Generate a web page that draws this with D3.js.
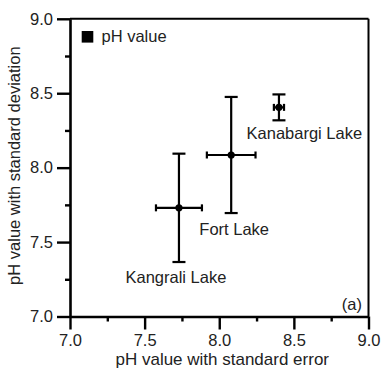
<!DOCTYPE html>
<html>
<head>
<meta charset="utf-8">
<script src="https://cdn.jsdelivr.net/npm/d3@7"></script>
<style>
  body { margin: 0; background: #fff; }
  svg text { font-family: "Liberation Sans", Arial, Helvetica, sans-serif; fill: #222; }
</style>
</head>
<body>
<div id="chart"></div>
<script>
// data
var lakes = ["Kangrali Lake", "Fort Lake", "Kanabargi Lake"];
var phMean = [7.73, 8.08, 8.40];          // x = mean pH
var phMeanY = [7.73, 8.085, 8.405];       // y = mean pH
var stdErr = [0.154, 0.163, 0.034];       // horizontal bars
var stdDev = [0.364, 0.39, 0.087];        // vertical bars
var majorTicks = [7.0, 7.5, 8.0, 8.5, 9.0];
var minorTicks = [7.25, 7.75, 8.25, 8.75];

var width = 382, height = 371;
var plotLeft = 70, plotRight = 368.5, plotTop = 18.8, plotBottom = 316.5;

var svg = d3.select("#chart")
  .append("svg")
    .attr("width", width)
    .attr("height", height);

var x = d3.scaleLinear().domain([7, 9]).range([plotLeft, plotRight]);
var y = d3.scaleLinear().domain([7, 9]).range([plotBottom, plotTop]);

// frame top + right
svg.append("line")
  .attr("x1", x(7)).attr("x2", x(9))
  .attr("y1", y(9)).attr("y2", y(9))
  .attr("stroke", "#000").attr("stroke-width", 2);
svg.append("line")
  .attr("x1", x(9)).attr("x2", x(9))
  .attr("y1", y(9)).attr("y2", y(7))
  .attr("stroke", "#000").attr("stroke-width", 2);

// x axis
svg.append("g")
  .attr("transform", `translate(0,${plotBottom})`)
  .call(d3.axisBottom(x).tickValues(majorTicks).tickFormat(d3.format(".1f"))
        .tickSize(13).tickSizeOuter(0).tickPadding(5));
svg.append("g")
  .attr("transform", `translate(0,${plotBottom})`)
  .call(d3.axisBottom(x).tickValues(minorTicks).tickFormat("").tickSize(5).tickSizeOuter(0))
  .select(".domain").remove();

// y axis
svg.append("g")
  .attr("transform", `translate(${plotLeft},0)`)
  .call(d3.axisLeft(y).tickValues(majorTicks).tickFormat(d3.format(".1f"))
        .tickSize(13).tickSizeOuter(0).tickPadding(4));
svg.append("g")
  .attr("transform", `translate(${plotLeft},0)`)
  .call(d3.axisLeft(y).tickValues(minorTicks).tickFormat("").tickSize(5).tickSizeOuter(0))
  .select(".domain").remove();

svg.selectAll(".domain").attr("stroke", "#000").attr("stroke-width", 2.6);
svg.selectAll(".tick line").attr("stroke", "#000").attr("stroke-width", 2.4);
svg.selectAll(".tick text")
  .style("font-size", "16.5px")
  .style("font-family", "'Liberation Sans', Arial, sans-serif")
  .attr("fill", "#222");

// axis titles
svg.append("text")
  .attr("x", (plotLeft + plotRight) / 2 + 3)
  .attr("y", 365)
  .attr("text-anchor", "middle")
  .style("font-size", "17px")
  .text("pH value with standard error");

svg.append("text")
  .attr("transform", `translate(20,${(plotTop + plotBottom) / 2 - 2}) rotate(-90)`)
  .attr("text-anchor", "middle")
  .style("font-size", "16.5px")
  .text("pH value with standard deviation");

// error bars
var capV = 6.5, capH = 3.5;
lakes.forEach(function(name, i) {
  var cx = x(phMean[i]), cy = y(phMeanY[i]);
  var g = svg.append("g").attr("stroke", "#000").attr("stroke-width", 2.2);
  var y0 = y(phMeanY[i] - stdDev[i]), y1 = y(phMeanY[i] + stdDev[i]);
  var x0 = x(phMean[i] - stdErr[i]), x1 = x(phMean[i] + stdErr[i]);
  g.append("line").attr("x1", cx).attr("x2", cx).attr("y1", y0).attr("y2", y1);
  g.append("line").attr("x1", cx - capV).attr("x2", cx + capV).attr("y1", y0).attr("y2", y0);
  g.append("line").attr("x1", cx - capV).attr("x2", cx + capV).attr("y1", y1).attr("y2", y1);
  g.append("line").attr("x1", x0).attr("x2", x1).attr("y1", cy).attr("y2", cy);
  g.append("line").attr("x1", x0).attr("x2", x0).attr("y1", cy - capH).attr("y2", cy + capH);
  g.append("line").attr("x1", x1).attr("x2", x1).attr("y1", cy - capH).attr("y2", cy + capH);
  svg.append("circle").attr("cx", cx).attr("cy", cy).attr("r", 3.6).attr("fill", "#000");
});

// lake labels, offsets from each point
var labelOffset = [[-3, 75.6], [3, 80.5], [25.4, 32]];
svg.selectAll(".lake-label")
  .data(lakes)
  .enter().append("text")
  .attr("class", "lake-label")
  .attr("x", (d, i) => x(phMean[i]) + labelOffset[i][0])
  .attr("y", (d, i) => y(phMeanY[i]) + labelOffset[i][1])
  .attr("text-anchor", "middle")
  .style("font-size", "16.5px")
  .text(d => d);

// legend
svg.append("rect")
  .attr("x", 81.7).attr("y", 31).attr("width", 11.6).attr("height", 11.6)
  .attr("fill", "#000");
svg.append("text")
  .attr("x", 101.5).attr("y", 41.5)
  .style("font-size", "16.5px")
  .text("pH value");

// panel tag
svg.append("text")
  .attr("x", 362).attr("y", 310)
  .attr("text-anchor", "end")
  .style("font-size", "16.5px")
  .text("(a)");
</script>
</body>
</html>
